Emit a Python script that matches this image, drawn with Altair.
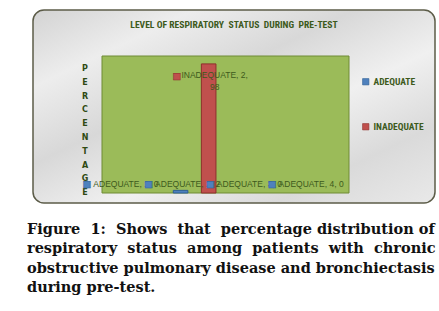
import altair as alt
import pandas as pd

categories = [1, 2, 3, 4]
adequate = [0, 2, 0, 0]
inadequate = [0, 98, 0, 0]
series_names = ["ADEQUATE", "INADEQUATE"]
series_colors = ["#4f81bd", "#c0504d"]
series_strokes = ["#2f5f96", "#8e2f2c"]
chart_title = "LEVEL OF RESPIRATORY\u00a0 STATUS\u00a0 DURING\u00a0 PRE-TEST"
y_title = "PERCENTAGE"
NB = "\u00a0"
caption_lines = [
    f"Figure {NB}1: {NB}Shows {NB}that {NB}percentage distribution of",
    f"respiratory {NB}status {NB}among {NB}patients {NB}with {NB}chronic",
    "obstructive pulmonary disease and bronchiectasis",
    "during pre-test.",
]

rows = []
for c, a, i in zip(categories, adequate, inadequate):
    rows.append({"cat": c, "series": series_names[0], "value": a})
    rows.append({"cat": c, "series": series_names[1], "value": i})
df = pd.DataFrame(rows)

NARROW = "Liberation Sans Narrow, Roboto Condensed, Liberation Sans, sans-serif"
LABEL_FONT = "Liberation Sans, Arial, sans-serif"
GREEN_TXT = "#3d5a1c"

one = alt.Data(values=[{"k": 0}])

x_enc = alt.X("cat:O", scale=alt.Scale(range=[102, 349], paddingInner=0, paddingOuter=0), axis=None)
xo_enc = alt.XOffset("series:N", scale=alt.Scale(domain=series_names, paddingInner=0.48, paddingOuter=0.34))
y_enc = alt.Y("value:Q", scale=alt.Scale(domain=[0, 104], range=[193, 56], nice=False, zero=True), axis=None)

marble = alt.Chart(one).mark_rect(
    cornerRadius=11,
    fill=alt.Gradient(
        gradient="linear",
        stops=[
            alt.GradientStop(color="#d3d3d3", offset=0),
            alt.GradientStop(color="#ededed", offset=0.2),
            alt.GradientStop(color="#d8d8d8", offset=0.4),
            alt.GradientStop(color="#f0f0f0", offset=0.6),
            alt.GradientStop(color="#dadada", offset=0.8),
            alt.GradientStop(color="#e9e9e9", offset=1),
        ],
        x1=0, y1=0, x2=1, y2=1,
    ),
    stroke="#5c5c48",
    strokeWidth=1.5,
).encode(x=alt.value(33), x2=alt.value(435), y=alt.value(10), y2=alt.value(203))

plot_bg = alt.Chart(one).mark_rect(
    fill="#9bbb59", stroke="#6f8b35", strokeWidth=1
).encode(x=alt.value(102), x2=alt.value(349), y=alt.value(56), y2=alt.value(193))

title_txt = alt.Chart(one).mark_text(
    text=chart_title, font=NARROW, fontSize=9.6, fontWeight="bold", color=GREEN_TXT,
    align="center", baseline="middle",
).encode(x=alt.value(234), y=alt.value(25))

ytitle_txt = alt.Chart(one).mark_text(
    text="\n".join(list(y_title)), lineBreak="\n", lineHeight=13.8,
    font="DejaVu Sans", fontSize=8, fontWeight="bold", color="#2f4a12",
    align="center", baseline="top",
).encode(x=alt.value(85), y=alt.value(65))

bars = alt.Chart(df).transform_filter("datum.value > 0").mark_bar(strokeWidth=1).encode(
    x=x_enc, xOffset=xo_enc, y=y_enc,
    color=alt.Color(
        "series:N",
        scale=alt.Scale(domain=series_names, range=series_colors),
        legend=alt.Legend(
            orient="none", legendX=361, legendY=77, title=None,
            symbolType="square", symbolSize=40, symbolStrokeWidth=0.6,
            labelFont=NARROW, labelFontSize=9.5, labelFontWeight="bold",
            labelColor=GREEN_TXT, rowPadding=34, labelOffset=3,
        ),
    ),
    stroke=alt.Stroke("series:N", scale=alt.Scale(domain=series_names, range=series_strokes), legend=None),
)

adeq_labels = alt.Chart(df).transform_filter(
    alt.datum.series == series_names[0]
).transform_calculate(
    label="datum.series + ', ' + datum.cat + ', ' + datum.value"
).transform_calculate(
    zero="0"
)

adeq_text = adeq_labels.mark_text(
    font=LABEL_FONT, fontSize=8.5, color=GREEN_TXT, align="center", baseline="middle", dx=7, dy=-9,
).encode(x=x_enc, xOffset=xo_enc, y=alt.Y("zero:Q"), text="label:N")

adeq_sq = adeq_labels.mark_text(
    text="\u25a0", font="DejaVu Sans", fontSize=9, color=series_colors[0],
    stroke="#2f5f96", strokeWidth=0.5,
    align="center", baseline="middle", dx=-32, dy=-9,
).encode(x=x_enc, xOffset=xo_enc, y=alt.Y("zero:Q"))

inad_labels = alt.Chart(df).transform_filter(
    (alt.datum.series == series_names[1]) & (alt.datum.value > 0)
).transform_calculate(
    label="datum.series + ', ' + datum.cat + ',\\n' + datum.value"
)

inad_text = inad_labels.mark_text(
    font=LABEL_FONT, fontSize=8.5, color=GREEN_TXT, align="center", baseline="top",
    lineBreak="\n", lineHeight=12, dx=6, dy=7,
).encode(x=x_enc, xOffset=xo_enc, y=y_enc, text="label:N")

inad_sq = inad_labels.mark_text(
    text="\u25a0", font="DejaVu Sans", fontSize=9, color=series_colors[1],
    stroke="#8e2f2c", strokeWidth=0.5,
    align="center", baseline="middle", dx=-32, dy=12,
).encode(x=x_enc, xOffset=xo_enc, y=y_enc)

caption = alt.Chart(one).mark_text(
    text="\n".join(caption_lines), lineBreak="\n", lineHeight=19.3,
    font="DejaVu Serif", fontSize=14.5, fontWeight="bold", color="#111111",
    align="left", baseline="middle",
).encode(x=alt.value(27), y=alt.value(230))

chart = alt.layer(
    marble, plot_bg, title_txt, ytitle_txt, bars, inad_text, inad_sq, adeq_text, adeq_sq, caption
).properties(
    width=439, height=311, autosize=alt.AutoSizeParams(type="none"), padding=0, background="white"
).configure_view(stroke=None)

chart.save("out.html", embed_options={"renderer": "svg", "actions": False})
